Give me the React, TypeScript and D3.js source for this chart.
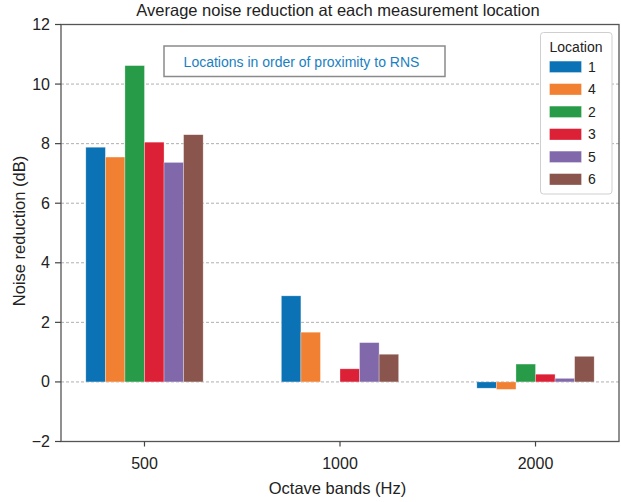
import React, { useEffect, useRef } from 'react';
import * as d3 from 'd3';

// Octave bands on the x axis
const bands: string[] = ['500', '1000', '2000'];

// Locations, in legend order (order of proximity to RNS)
const locations: string[] = ['1', '4', '2', '3', '5', '6'];

// Noise reduction (dB) per location, one value per band (null = no bar)
const loc1: (number | null)[] = [7.88, 2.89, -0.21];
const loc4: (number | null)[] = [7.55, 1.67, -0.25];
const loc2: (number | null)[] = [10.62, null, 0.6];
const loc3: (number | null)[] = [8.05, 0.44, 0.26];
const loc5: (number | null)[] = [7.37, 1.32, 0.12];
const loc6: (number | null)[] = [8.3, 0.93, 0.86];

const seriesValues = [loc1, loc4, loc2, loc3, loc5, loc6];
const colors = ['#0b72b5', '#f28032', '#289b48', '#dc2035', '#8068aa', '#8a554c'];
const yTicks: number[] = [-2, 0, 2, 4, 6, 8, 10, 12];

const FONT = '"Liberation Sans", Arial, Helvetica, sans-serif';

const App: React.FC = () => {
    const svgRef = useRef<SVGSVGElement>(null);

    useEffect(() => {
        if (!svgRef.current) return;
        const svg = d3.select(svgRef.current);
        svg.selectAll('*').remove();

        const left = 61, right = 619, top = 24.5, bottom = 441.5;

        const x = d3.scalePoint<string>()
            .domain(bands)
            .range([left, right])
            .padding(0.427);
        const step = x.step();
        const barW = step * 0.1;

        const y = d3.scaleLinear().domain([-2, 12]).range([bottom, top]);

        // dashed grid
        svg.append('g')
            .selectAll('line')
            .data(yTicks.filter(t => t > -2 && t < 12))
            .join('line')
            .attr('x1', left)
            .attr('x2', right)
            .attr('y1', d => y(d))
            .attr('y2', d => y(d))
            .attr('stroke', '#9a9a9a')
            .attr('stroke-width', 0.8)
            .attr('stroke-dasharray', '3,2');

        // bars
        seriesValues.forEach((vals, si) => {
            vals.forEach((v, bi) => {
                if (v === null) return;
                const cx = x(bands[bi])!;
                const x0 = cx - 3 * barW + si * barW;
                svg.append('rect')
                    .attr('x', x0)
                    .attr('width', barW)
                    .attr('y', y(Math.max(0, v)))
                    .attr('height', Math.abs(y(v) - y(0)))
                    .attr('fill', colors[si])
                    .attr('stroke', '#ffffff')
                    .attr('stroke-opacity', 0.5)
                    .attr('stroke-width', 0.6);
            });
        });

        // frame
        svg.append('rect')
            .attr('x', left)
            .attr('y', top)
            .attr('width', right - left)
            .attr('height', bottom - top)
            .attr('fill', 'none')
            .attr('stroke', '#555')
            .attr('stroke-width', 1.3);

        // y axis ticks and labels
        const yAxis = svg.append('g');
        yTicks.forEach(t => {
            yAxis.append('line')
                .attr('x1', left - 6)
                .attr('x2', left)
                .attr('y1', y(t))
                .attr('y2', y(t))
                .attr('stroke', '#444')
                .attr('stroke-width', 1.2);
            yAxis.append('text')
                .attr('x', left - 11)
                .attr('y', y(t))
                .attr('text-anchor', 'end')
                .attr('dominant-baseline', 'central')
                .attr('font-size', '16px')
                .attr('font-family', FONT)
                .attr('fill', '#222')
                .text(t < 0 ? '\u2212' + Math.abs(t) : String(t));
        });

        // x axis ticks and labels
        const xAxis = svg.append('g');
        bands.forEach(b => {
            xAxis.append('line')
                .attr('x1', x(b)!)
                .attr('x2', x(b)!)
                .attr('y1', bottom)
                .attr('y2', bottom + 5)
                .attr('stroke', '#444')
                .attr('stroke-width', 1.2);
            xAxis.append('text')
                .attr('x', x(b)!)
                .attr('y', 468.5)
                .attr('text-anchor', 'middle')
                .attr('font-size', '16px')
                .attr('font-family', FONT)
                .attr('fill', '#222')
                .text(b);
        });

        // titles
        svg.append('text')
            .attr('x', 338)
            .attr('y', 15.5)
            .attr('text-anchor', 'middle')
            .attr('font-size', '16.5px')
            .attr('font-family', FONT)
            .attr('fill', '#222')
            .text('Average noise reduction at each measurement location');

        svg.append('text')
            .attr('x', 337.5)
            .attr('y', 494)
            .attr('text-anchor', 'middle')
            .attr('font-size', '16.5px')
            .attr('font-family', FONT)
            .attr('fill', '#222')
            .text('Octave bands (Hz)');

        svg.append('text')
            .attr('transform', `translate(19, 231) rotate(-90)`)
            .attr('text-anchor', 'middle')
            .attr('dominant-baseline', 'central')
            .attr('font-size', '16.5px')
            .attr('font-family', FONT)
            .attr('fill', '#222')
            .text('Noise reduction (dB)');

        // annotation box
        svg.append('rect')
            .attr('x', 164)
            .attr('y', 46)
            .attr('width', 281)
            .attr('height', 30.5)
            .attr('fill', '#fff')
            .attr('stroke', '#8a8a8a')
            .attr('stroke-width', 1.5);
        svg.append('text')
            .attr('x', 301.5)
            .attr('y', 61.5)
            .attr('text-anchor', 'middle')
            .attr('dominant-baseline', 'central')
            .attr('font-size', '14px')
            .attr('font-family', FONT)
            .attr('fill', '#1a7fc1')
            .text('Locations in order of proximity to RNS');

        // legend
        const lg = svg.append('g');
        lg.append('rect')
            .attr('x', 540.5)
            .attr('y', 32.5)
            .attr('width', 71.5)
            .attr('height', 161.5)
            .attr('rx', 3)
            .attr('fill', '#fff')
            .attr('stroke', '#cfcfcf')
            .attr('stroke-width', 1);
        lg.append('text')
            .attr('x', 576)
            .attr('y', 46.5)
            .attr('text-anchor', 'middle')
            .attr('dominant-baseline', 'central')
            .attr('font-size', '14px')
            .attr('font-family', FONT)
            .attr('fill', '#222')
            .text('Location');
        locations.forEach((loc, i) => {
            const cy = 66.8 + i * 22.5;
            lg.append('rect')
                .attr('x', 549.5)
                .attr('y', cy - 5.7)
                .attr('width', 32)
                .attr('height', 11.4)
                .attr('fill', colors[i])
                .attr('stroke', '#ffffff')
                .attr('stroke-opacity', 0.5)
                .attr('stroke-width', 0.6);
            lg.append('text')
                .attr('x', 588)
                .attr('y', cy)
                .attr('dominant-baseline', 'central')
                .attr('font-size', '14px')
                .attr('font-family', FONT)
                .attr('fill', '#222')
                .text(loc);
        });
    }, []);

    return (
        <svg
            ref={svgRef}
            width={621}
            height={502}
            style={{ position: 'absolute', left: 0, top: 0, background: '#fff' }}
        />
    );
};

export default App;
